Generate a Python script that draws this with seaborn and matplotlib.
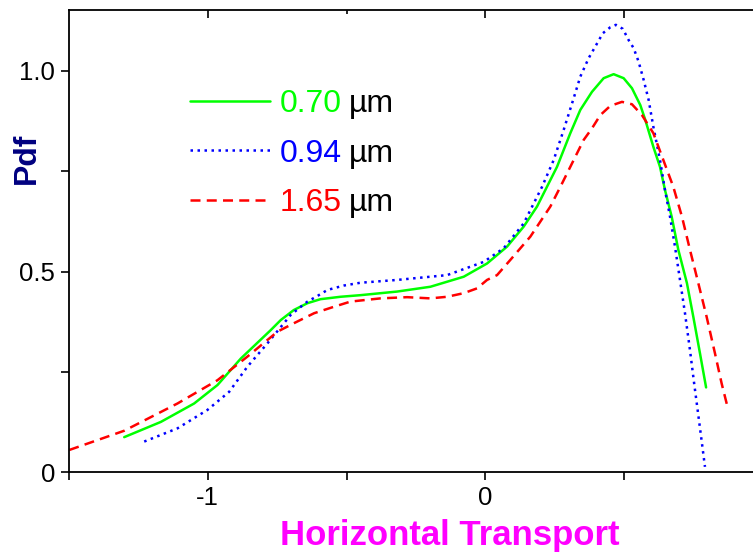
import matplotlib
matplotlib.use("Agg")
import matplotlib.pyplot as plt
import seaborn as sns
import pandas as pd

# curve values
x_070 = [-1.301, -1.169, -1.049, -0.965, -0.881, -0.773, -0.737, -0.690, -0.641, -0.594, -0.522,
         -0.450, -0.318, -0.198, -0.078, 0.006, 0.078, 0.138, 0.186, 0.258, 0.306, 0.342,
         0.384, 0.426, 0.462, 0.498, 0.528, 0.558, 0.576, 0.605, 0.629, 0.647, 0.671, 0.695,
         0.726, 0.749, 0.773, 0.795]
y_070 = [0.087, 0.125, 0.171, 0.217, 0.283, 0.354, 0.379, 0.404, 0.421, 0.431, 0.437,
         0.441, 0.450, 0.462, 0.487, 0.520, 0.562, 0.612, 0.662, 0.761, 0.845, 0.903,
         0.948, 0.982, 0.992, 0.982, 0.957, 0.915, 0.878, 0.811, 0.761, 0.703, 0.637, 0.554,
         0.471, 0.387, 0.296, 0.211]

x_094 = [-1.229, -1.109, -1.001, -0.923, -0.857, -0.785, -0.701, -0.665, -0.641, -0.605, -0.569,
         -0.510, -0.450, -0.318, -0.138, -0.006, 0.066, 0.138, 0.204, 0.246, 0.282, 0.318,
         0.342, 0.372, 0.396, 0.423, 0.450, 0.470, 0.495, 0.516, 0.534, 0.552, 0.570, 0.588,
         0.605, 0.629, 0.647, 0.665, 0.683, 0.701, 0.719, 0.737, 0.752, 0.767, 0.791]
y_094 = [0.076, 0.109, 0.155, 0.200, 0.263, 0.321, 0.392, 0.412, 0.425, 0.439, 0.454,
         0.465, 0.472, 0.479, 0.491, 0.524, 0.558, 0.620, 0.711, 0.778, 0.853, 0.932,
         0.986, 1.032, 1.061, 1.094, 1.109, 1.115, 1.105, 1.077, 1.057, 1.023, 0.978, 0.928,
         0.861, 0.778, 0.703, 0.637, 0.562, 0.479, 0.396, 0.304, 0.221, 0.142, 0.013]

x_165 = [-1.499, -1.301, -1.109, -0.965, -0.857, -0.749, -0.690, -0.617, -0.546, -0.486, -0.378,
         -0.282, -0.198, -0.138, -0.078, -0.030, 0.006, 0.042, 0.090, 0.126, 0.162, 0.234,
         0.270, 0.354, 0.384, 0.414, 0.450, 0.492, 0.528, 0.564, 0.605, 0.641, 0.677, 0.708,
         0.737, 0.767, 0.797, 0.827, 0.851, 0.872]
y_165 = [0.055, 0.103, 0.171, 0.229, 0.288, 0.350, 0.371, 0.396, 0.412, 0.425, 0.433,
         0.436, 0.433, 0.437, 0.446, 0.458, 0.479, 0.491, 0.529, 0.558, 0.587, 0.662,
         0.711, 0.828, 0.857, 0.890, 0.913, 0.923, 0.917, 0.890, 0.845, 0.778, 0.711, 0.637,
         0.554, 0.471, 0.387, 0.296, 0.221, 0.163]

labels = ["0.70", "0.94", "1.65"]
colors = ["#00ff00", "#0000ff", "#ff0000"]
styles = ["-", (0, (1, 1.8)), (0, (4, 2.5))]

sns.set_style("ticks")
plt.rcParams["font.family"] = ["Liberation Sans", "DejaVu Sans"]

fig = plt.figure(figsize=(7.53, 5.56), dpi=100)
ax = fig.add_axes([0.0916, 0.151, 0.9084, 0.831])

series = [(x_070, y_070), (x_094, y_094), (x_165, y_165)]
for (xs, ys), lab, c, ls in zip(series, labels, colors, styles):
    df = pd.DataFrame({"x": xs, "y": ys})
    sns.lineplot(data=df, x="x", y="y", sort=False, ax=ax, color=c,
                 linestyle=ls, linewidth=1.8, label=lab)

ax.set_xlim(-1.5, 0.964)
ax.set_ylim(0, 1.152)
ax.set_xticks([-1, 0])
ax.set_xticklabels(["-1", "0"])
ax.set_xticks([-1.5, -0.5, 0.5], minor=True)
ax.set_yticks([0, 0.5, 1.0])
ax.set_yticklabels(["0", "0.5", "1.0"])
ax.set_yticks([0.25, 0.75], minor=True)
ax.tick_params(which="both", direction="out", labelsize=18.5, width=1.2,
               color="black", labelcolor="black")
ax.tick_params(which="major", length=6, pad=4)
ax.tick_params(which="minor", length=6)
ax.spines["right"].set_visible(False)
for s in ["left", "bottom", "top"]:
    ax.spines[s].set_linewidth(1.3)
    ax.spines[s].set_color("black")

# inward ticks along the top spine (twin axis sharing x)
top = ax.twiny()
top.set_xlim(ax.get_xlim())
top.set_xticks([-1, 0, 0.5])
top.set_xticks([-0.5], minor=True)
top.tick_params(axis="x", which="both", direction="in", top=True, bottom=False,
                labeltop=False, labelbottom=False, width=1.2, color="black")
top.tick_params(axis="x", which="major", length=6)
top.tick_params(axis="x", which="minor", length=3)
top.tick_params(axis="y", left=False, right=False, labelleft=False, labelright=False)
for s in top.spines.values():
    s.set_visible(False)

ax.set_xlabel("Horizontal Transport", fontsize=25, fontweight="bold", color="#ff00ff")
ax.set_ylabel("Pdf", fontsize=23, fontweight="bold", color="#000080")
ax.xaxis.set_label_coords(0.557, -0.138)
ax.yaxis.set_label_coords(-0.061, 0.68)
ax.xaxis.label.set_va("center")
ax.yaxis.label.set_va("center")

leg = ax.legend(loc="upper left", bbox_to_anchor=(0.177, 0.828), frameon=False,
                fontsize=23, handlelength=2.5, handletextpad=0.31, labelspacing=0.6,
                borderpad=0, borderaxespad=0)
for t, c in zip(leg.get_texts(), colors):
    t.set_color(c)
fig.canvas.draw()
for t in leg.get_texts():
    ax.annotate("\u00b5m", xy=(1, 0), xycoords=t, xytext=(5, 0), textcoords="offset points",
                fontsize=23, color="black", va="bottom", ha="left")

fig.savefig("out.png", dpi=100)
